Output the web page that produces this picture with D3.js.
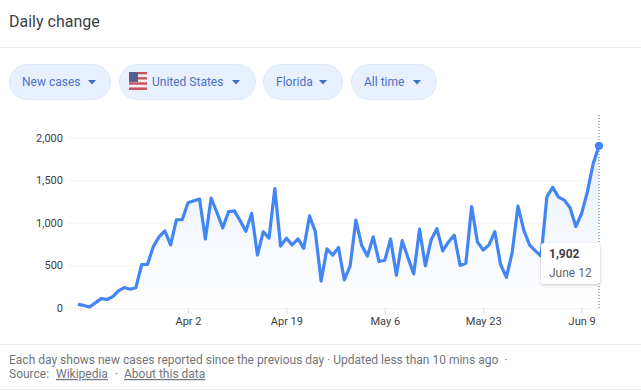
<!DOCTYPE html>
<html>
<head>
<meta charset="utf-8">
<script src="https://d3js.org/d3.v7.min.js"></script>
<style>
html, body { margin: 0; padding: 0; background: #fff; }
svg { display: block; font-family: Roboto, sans-serif; }
</style>
</head>
<body>
<div id="chart"></div>
<script>
var firstDay = "2020-03-14";
var newCases = [43,30,12,60,110,100,133,200,240,220,238,510,510,720,835,905,740,1035,1035,1235,
    1258,1277,810,1290,1120,940,1130,1140,1025,900,1110,620,895,820,1400,725,820,740,810,700,
    1080,895,315,695,620,710,330,490,1030,735,610,835,545,560,810,385,790,590,400,925,
    495,800,930,670,775,855,500,525,1190,775,680,740,895,510,360,650,1195,915,740,670,
    610,1305,1415,1300,1265,1175,955,1110,1365,1695,1902];
var yTicks = [0,500,1000,1500,2000];
var xTickDates = ["2020-04-02","2020-04-19","2020-05-06","2020-05-23","2020-06-09"];
var pillLabels = ["New cases","United States","Florida","All time"];
var footLines = ["Each day shows new cases reported since the previous day · Updated less than 10 mins ago  ·"];
var sourceBits = ["Wikipedia","About this data"];

var width = 641, height = 391;
var svg = d3.select("#chart").append("svg").attr("width", width).attr("height", height);

var parse = d3.utcParse("%Y-%m-%d");
var start = parse(firstDay);
var series = newCases.map(function(v, i) {
    return { date: d3.utcDay.offset(start, i), value: v };
});
var last = series[series.length - 1];

var x = d3.scaleUtc().domain([start, last.date]).range([78, 599]);
var y = d3.scaleLinear().domain([0, 2000]).range([308, 137.5]);

// header
svg.append("text").attr("x", 9).attr("y", 27).attr("font-size", 16).attr("fill", "#3c4043").text("Daily change");
svg.append("line").attr("x1", 0).attr("x2", width).attr("y1", 47.5).attr("y2", 47.5).attr("stroke", "#e8eaed");

// pills
var pillX = [9, 119, 263, 351], pillW = [101, 136, 79, 85], textX = [22, 152, 276, 364], arrowX = [92, 236, 323, 417];
var pills = svg.append("g").selectAll("g").data(pillLabels).enter().append("g");
pills.append("rect")
    .attr("x", function(d, i) { return pillX[i] + 0.5; })
    .attr("y", 64.5).attr("width", function(d, i) { return pillW[i]; }).attr("height", 35).attr("rx", 17.5)
    .attr("fill", "#e8f0fe").attr("stroke", "#dfe8f8");
pills.append("text")
    .attr("x", function(d, i) { return textX[i]; }).attr("y", 86)
    .attr("font-size", 12).attr("fill", "#4a72c4").text(function(d) { return d; });
pills.append("path")
    .attr("d", function(d, i) { return "M" + (arrowX[i] - 4) + ",80L" + (arrowX[i] + 4) + ",80L" + arrowX[i] + ",84.5Z"; })
    .attr("fill", "#3f6fc6");

// flag
var flag = svg.append("g");
d3.range(7).forEach(function(i) {
    flag.append("rect").attr("x", 129).attr("y", 72 + i * 2.57).attr("width", 18).attr("height", 2.57)
        .attr("fill", i % 2 ? "#f4f0f2" : "#c9525f");
});
flag.append("rect").attr("x", 129).attr("y", 72).attr("width", 9).attr("height", 10).attr("fill", "#5a5f92");

// grid
var gradient = svg.append("defs").append("linearGradient").attr("id", "areaFill")
    .attr("x1", 0).attr("x2", 0).attr("y1", 0).attr("y2", 1);
gradient.append("stop").attr("offset", "0%").attr("stop-color", "#e8effc");
gradient.append("stop").attr("offset", "100%").attr("stop-color", "#ffffff");

var yAxis = svg.append("g").attr("transform", "translate(68,0)")
    .call(d3.axisLeft(y).tickValues(yTicks).tickSize(0).tickPadding(5).tickFormat(d3.format(",")));
yAxis.select(".domain").remove();
yAxis.selectAll("text").attr("font-size", 11).attr("font-family", "Roboto, sans-serif").attr("fill", "#3c4043");
yAxis.selectAll(".tick").append("line").attr("x1", 0).attr("x2", 531).attr("stroke", "#f1f3f4");

// area + line
var area = d3.area().x(function(d) { return x(d.date); }).y0(y(0)).y1(function(d) { return y(d.value); });
var line = d3.line().x(function(d) { return x(d.date); }).y(function(d) { return y(d.value); });
svg.append("path").datum(series).attr("d", area).attr("fill", "url(#areaFill)");

var xAxis = svg.append("g").attr("transform", "translate(0,308)")
    .call(d3.axisBottom(x).tickValues(xTickDates.map(parse)).tickSize(6).tickPadding(3).tickFormat(d3.utcFormat("%b %-d")));
xAxis.select(".domain").remove();
xAxis.selectAll("line").attr("stroke", "#dadce0");
xAxis.selectAll("text").attr("font-size", 11).attr("font-family", "Roboto, sans-serif").attr("fill", "#3c4043");

svg.append("line").attr("x1", x(last.date)).attr("x2", x(last.date)).attr("y1", 115).attr("y2", 310)
    .attr("stroke", "#5f6368").attr("stroke-dasharray", "1,2");
svg.append("path").datum(series).attr("d", line).attr("fill", "none")
    .attr("stroke", "#4285f4").attr("stroke-width", 3.2).attr("stroke-linejoin", "round");
svg.append("circle").attr("cx", x(last.date)).attr("cy", y(last.value)).attr("r", 4.2).attr("fill", "#4285f4");

// tooltip
var shadow = svg.select("defs").append("filter").attr("id", "tipShadow")
    .attr("x", "-20%").attr("y", "-20%").attr("width", "140%").attr("height", "140%");
shadow.append("feDropShadow").attr("dx", 0).attr("dy", 1).attr("stdDeviation", 1.5)
    .attr("flood-color", "#3c4043").attr("flood-opacity", 0.3);
svg.append("rect").attr("x", 541).attr("y", 243).attr("width", 59).attr("height", 41).attr("rx", 3)
    .attr("fill", "#fff").attr("filter", "url(#tipShadow)");
svg.append("text").attr("x", 549).attr("y", 258).attr("font-size", 12).attr("font-weight", 700).attr("fill", "#3c4043")
    .text(d3.format(",")(last.value));
svg.append("text").attr("x", 549).attr("y", 277).attr("font-size", 12).attr("fill", "#5f6368")
    .text(d3.utcFormat("%B %-d")(last.date));

// footer
svg.append("line").attr("x1", 0).attr("x2", width).attr("y1", 344.5).attr("y2", 344.5).attr("stroke", "#e8eaed");
svg.append("line").attr("x1", 0).attr("x2", width).attr("y1", 389.5).attr("y2", 389.5).attr("stroke", "#e8eaed");
svg.append("text").attr("x", 9).attr("y", 364).attr("font-size", 12).attr("fill", "#70757a")
    .attr("xml:space", "preserve").style("white-space", "pre").text(footLines[0]);
svg.append("text").attr("x", 9).attr("y", 378).attr("font-size", 12).attr("fill", "#70757a").text("Source:");
svg.append("text").attr("x", 56).attr("y", 378).attr("font-size", 12).attr("fill", "#70757a")
    .attr("text-decoration", "underline").text(sourceBits[0]);
svg.append("text").attr("x", 115).attr("y", 378).attr("font-size", 12).attr("fill", "#70757a").text("·");
svg.append("text").attr("x", 124).attr("y", 378).attr("font-size", 12).attr("fill", "#70757a")
    .attr("text-decoration", "underline").text(sourceBits[1]);
</script>
</body>
</html>
